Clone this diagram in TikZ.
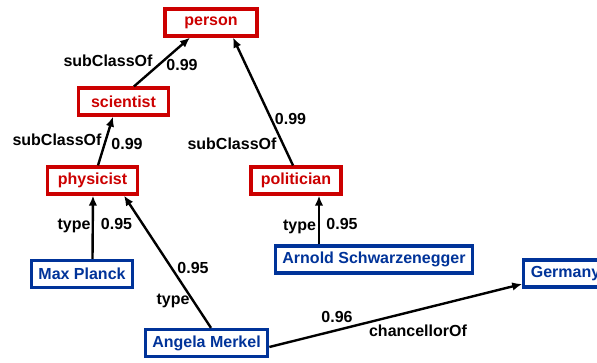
\documentclass[tikz,border=0pt]{standalone}
\usepackage{fontspec}
\setmainfont{Liberation Sans}
\usetikzlibrary{arrows.meta}
\definecolor{classred}{HTML}{CC0000}
\definecolor{entblue}{HTML}{003399}
\definecolor{ink}{HTML}{000000}
\tikzset{
  classbox/.style={draw=classred,text=classred,fill=white,line width=3.2pt,
                   minimum width=90pt,minimum height=27pt,inner sep=0pt,
                   font=\fontsize{16}{19}\selectfont\bfseries},
  entbox/.style={draw=entblue,text=entblue,fill=white,line width=3.2pt,
                 minimum height=27pt,inner xsep=7pt,inner ysep=0pt,
                 font=\fontsize{16}{19}\selectfont\bfseries},
  relarr/.style={-{Latex[length=10pt,width=8.5pt]},line width=2.4pt,color=ink},
  rellabel/.style={inner sep=0pt,text height=11.5pt,text depth=0pt,
                   font=\fontsize{16}{19}\selectfont\bfseries}
}

\begin{document}
\begin{tikzpicture}[x=1pt,y=-1pt,>=Latex]
  \useasboundingbox (0,0) rectangle (597,362);
  \clip (0,0) rectangle (597,362);

  % classes
  \node[classbox,minimum width=92pt] (person) at (211,22.5) {person};
  \node[classbox] (scientist) at (123.5,101.5) {scientist};
  \node[classbox] (physicist) at (92.5,180.5) {physicist};
  \node[classbox] (politician) at (296,180.5) {politician};

  % entities
  \node[entbox] (planck) at (82,274) {Max Planck};
  \node[entbox] (arnold) at (374,259.5) {Arnold Schwarzenegger};
  \node[entbox] (merkel) at (206.5,343) {Angela Merkel};
  \node[entbox] (germany) at (565.5,273.5) {Germany};

  % relations
  \draw[relarr] ([xshift=10.5]scientist.north) -- ([xshift=-21]person.south);
  \draw[relarr] ([xshift=5.5]physicist.north) -- ([xshift=-10.5]scientist.south);
  \draw[relarr] ([xshift=-3]politician.north) -- ([xshift=22]person.south);
  \draw[relarr] ([xshift=10.5]planck.north) -- ([xshift=0.5]physicist.south);
  \draw[relarr] ([xshift=-55]arnold.north) -- ([xshift=23]politician.south);
  \draw[relarr] ([xshift=4.5]merkel.north) -- ([xshift=31.5]physicist.south);
  \draw[relarr] ([yshift=-4]merkel.east) -- ([yshift=-10.5]germany.west);

  % labels
  \node[rellabel] (l1) at (108,61) {subClassOf};
  \node[rellabel] (c1) at (182,64.5) {0.99};
  \node[rellabel] (l2) at (57,139.5) {subClassOf};
  \node[rellabel] (c2) at (127,144) {0.99};
  \node[rellabel] (l3) at (232,144) {subClassOf};
  \node[rellabel] (c3) at (290.5,119) {0.99};
  \node[rellabel] (l4) at (74,224) {type};
  \node[rellabel] (c4) at (116.5,223.5) {0.95};
  \node[rellabel] (l5) at (299.5,224.5) {type};
  \node[rellabel] (c5) at (342,223.5) {0.95};
  \node[rellabel] (l6) at (173,298.5) {type};
  \node[rellabel] (c6) at (193,267.5) {0.95};
  \node[rellabel] (l7) at (418,331) {chancellorOf};
  \node[rellabel] (c7) at (337,316.5) {0.96};
\end{tikzpicture}
\end{document}
